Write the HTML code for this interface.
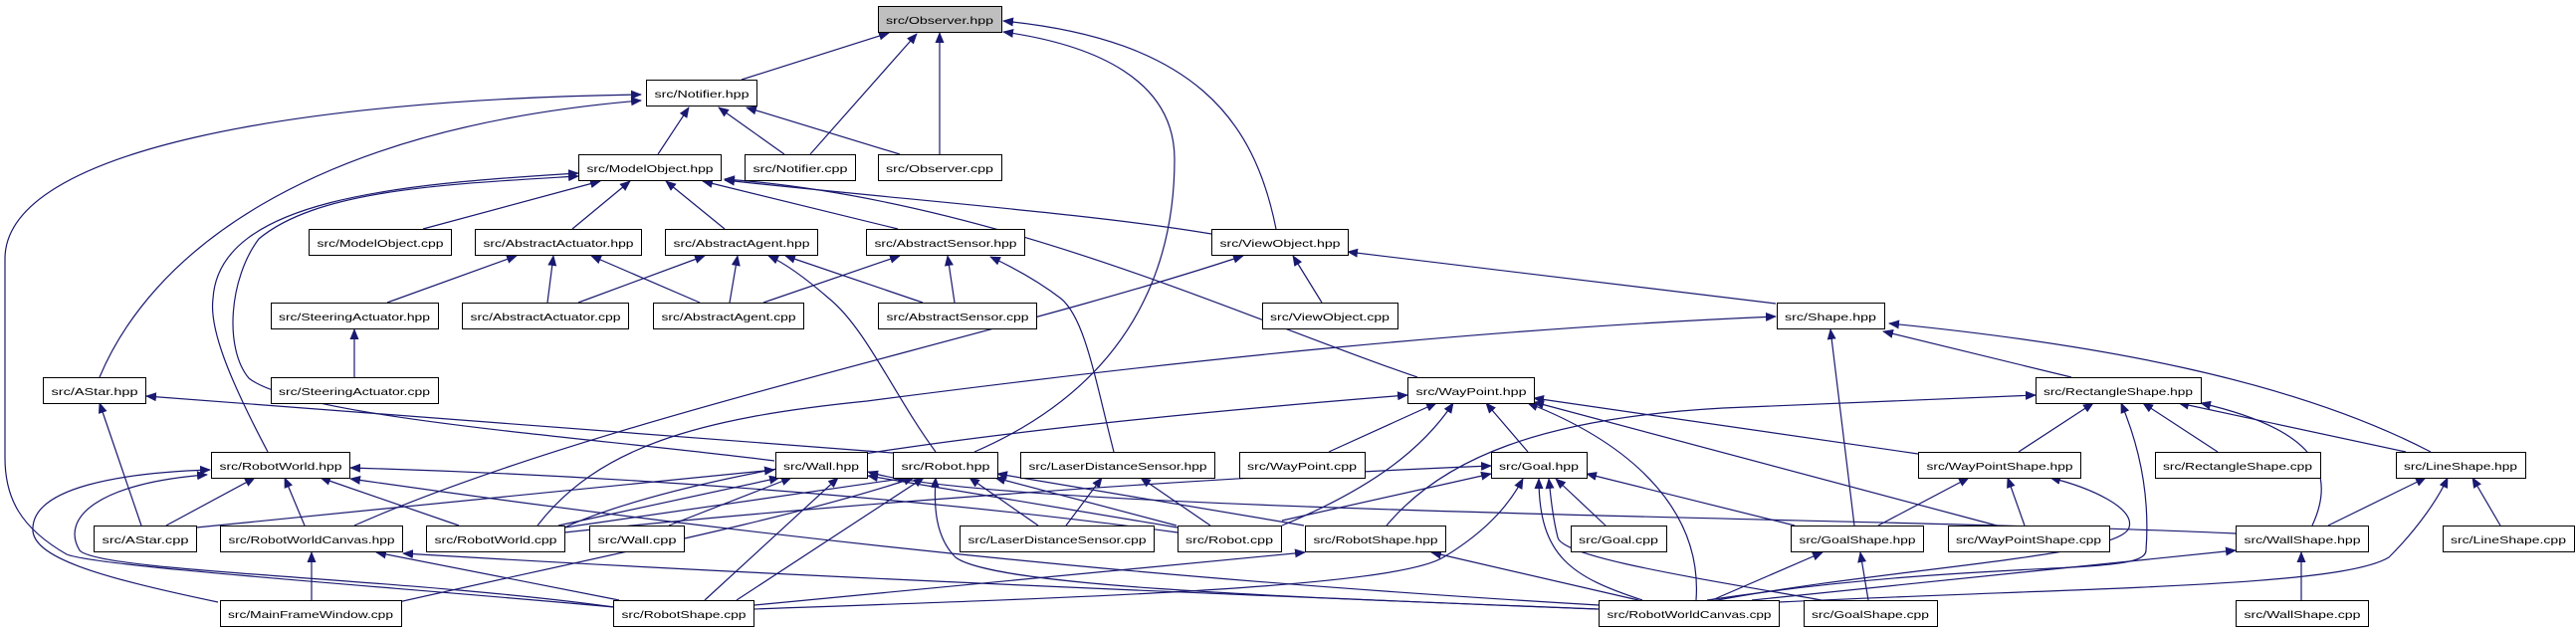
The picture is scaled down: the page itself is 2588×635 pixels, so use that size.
<!DOCTYPE html>
<html><head><meta charset="utf-8"><style>
html,body{margin:0;padding:0;background:#fff;}
svg{display:block;}
text{font-family:"Liberation Sans",Arial,sans-serif;font-size:10.5px;fill:#000;}
</style></head><body>
<svg width="2588" height="635" viewBox="0 0 2588 635" xmlns="http://www.w3.org/2000/svg">
<defs>
<marker id="a" markerWidth="11" markerHeight="9" refX="10" refY="4.5" orient="auto" markerUnits="userSpaceOnUse">
<path d="M0,0 L11,4.5 L0,9 z" fill="#191970"/>
</marker>
</defs>
<g fill="none" stroke="#191970" stroke-width="1.2" marker-end="url(#a)">
<path d="M745,80 L893,33"/>
<path d="M814,155 L921,34"/>
<path d="M944,155 L944,33"/>
<path d="M979,454 C1150,380 1180,250 1180,160 C1180,80 1100,45 1008,32"/>
<path d="M1282,230 C1260,120 1200,40 1008,21"/>
<path d="M661,155 L692,108"/>
<path d="M788,155 L722,108"/>
<path d="M904,155 L750,108"/>
<path d="M100,379 C150,260 300,130 644,101"/>
<path d="M617,610 C400,590 100,570 67,557 C20,530 5,500 5,460 L5,260 C5,150 300,100 644,95"/>
<path d="M425,230 L603,182"/>
<path d="M575,230 L633,182"/>
<path d="M728,230 L669,182"/>
<path d="M902,230 L706,182"/>
<path d="M1217,235 C1100,215 900,200 728,181"/>
<path d="M1424,379 C1250,320 1000,200 728,180"/>
<path d="M269,454 C230,380 210,330 214,300 C220,200 400,185 581,174"/>
<path d="M778,463 C600,440 300,420 250,380 C225,350 230,280 260,240 C320,190 450,185 581,177"/>
<path d="M389,304 L519,257"/>
<path d="M550,304 L556,257"/>
<path d="M703,304 L594,257"/>
<path d="M581,304 L708,257"/>
<path d="M733,304 L741,257"/>
<path d="M927,304 L789,257"/>
<path d="M940,454 C900,400 870,330 833,300 C810,280 790,265 772,257"/>
<path d="M767,304 L904,257"/>
<path d="M959,304 L952,257"/>
<path d="M1119,454 C1100,380 1090,320 1066,300 C1040,280 1010,265 995,258"/>
<path d="M1328,304 L1299,257"/>
<path d="M1784,305 L1354,253"/>
<path d="M356,528 C600,420 1000,340 1249,257"/>
<path d="M356,379 L356,331"/>
<path d="M2081,379 L1892,333"/>
<path d="M2442,454 C2300,380 2100,345 1898,325"/>
<path d="M1863,528 L1839,331"/>
<path d="M540,528 C600,450 700,420 871,403 C1200,360 1500,330 1784,318"/>
<path d="M142,528 L100,405"/>
<path d="M897,455 L147,398"/>
<path d="M167,528 L256,480"/>
<path d="M306,528 L286,480"/>
<path d="M461,528 L322,480"/>
<path d="M219,605 C100,580 30,560 33,530 C35,490 120,475 211,472"/>
<path d="M617,610 C400,580 100,575 80,553 C60,520 100,485 208,477"/>
<path d="M1183,535 C1000,510 700,480 352,470"/>
<path d="M1606,608 C1300,590 900,560 352,481"/>
<path d="M197,530 L778,472"/>
<path d="M561,528 L783,480"/>
<path d="M672,528 L795,480"/>
<path d="M708,603 L842,480"/>
<path d="M1183,530 L872,478"/>
<path d="M2246,536 C1900,520 1000,515 872,474"/>
<path d="M567,530 L912,480"/>
<path d="M400,605 C600,560 800,520 918,480"/>
<path d="M1043,528 L974,480"/>
<path d="M1182,528 L1000,480"/>
<path d="M1310,528 L1002,476"/>
<path d="M1604,612 C1300,600 1000,590 960,560 C940,540 938,510 940,480"/>
<path d="M740,603 L928,480"/>
<path d="M1071,528 L1107,480"/>
<path d="M1216,528 L1146,480"/>
<path d="M1335,454 L1443,405"/>
<path d="M1288,528 C1380,490 1430,450 1460,405"/>
<path d="M1535,454 L1493,405"/>
<path d="M1704,603 C1710,520 1650,450 1535,405"/>
<path d="M1927,456 L1541,400"/>
<path d="M2006,528 L1541,404"/>
<path d="M567,530 C700,470 1000,430 1414,397"/>
<path d="M1613,528 L1563,481"/>
<path d="M1288,523 L1498,476"/>
<path d="M567,535 C800,510 1200,480 1498,468"/>
<path d="M1650,603 C1580,580 1546,560 1546,481"/>
<path d="M757,612 C1100,600 1400,590 1450,560 C1500,530 1520,500 1530,481"/>
<path d="M1803,528 L1594,476"/>
<path d="M1830,603 C1700,580 1570,560 1565,540 C1560,520 1558,500 1556,481"/>
<path d="M758,608 L1311,555"/>
<path d="M1646,603 L1438,555"/>
<path d="M313,603 L313,555"/>
<path d="M622,603 L378,555"/>
<path d="M1606,612 C1300,600 800,580 405,556"/>
<path d="M2028,454 L2103,405"/>
<path d="M2228,454 L2153,405"/>
<path d="M2417,454 L2189,405"/>
<path d="M2323,528 C2350,470 2320,430 2211,405"/>
<path d="M1715,603 C2000,560 2156,580 2156,553 C2160,500 2150,450 2131,405"/>
<path d="M1393,528 C1450,460 1550,420 1731,410 C1850,405 1950,400 2045,397"/>
<path d="M1887,528 L1978,480"/>
<path d="M2034,528 L2017,480"/>
<path d="M1720,604 C1900,570 2130,560 2139,530 C2145,510 2100,490 2060,480"/>
<path d="M2339,528 L2437,480"/>
<path d="M2512,528 L2484,480"/>
<path d="M1787,605 C2100,590 2350,590 2400,560 C2430,530 2450,500 2459,480"/>
<path d="M1720,603 L1831,555"/>
<path d="M1877,603 L1869,555"/>
<path d="M2312,603 L2312,555"/>
<path d="M1760,603 L2246,553"/>
</g>
<g fill="#fff" stroke="#000" stroke-width="1">
<rect x="882.5" y="6.5" width="124" height="26" fill="#bfbfbf"/>
<rect x="649.5" y="80.5" width="111" height="26"/>
<rect x="581.5" y="155.5" width="143" height="26"/>
<rect x="748.5" y="155.5" width="111" height="26"/>
<rect x="882.5" y="155.5" width="124" height="26"/>
<rect x="310.5" y="230.5" width="143" height="26"/>
<rect x="477.5" y="230.5" width="167" height="26"/>
<rect x="668.5" y="230.5" width="153" height="26"/>
<rect x="870.5" y="230.5" width="159" height="26"/>
<rect x="1217.5" y="230.5" width="137" height="26"/>
<rect x="272.5" y="304.5" width="168" height="26"/>
<rect x="464.5" y="304.5" width="167" height="26"/>
<rect x="656.5" y="304.5" width="151" height="26"/>
<rect x="882.5" y="304.5" width="159" height="26"/>
<rect x="1268.5" y="304.5" width="136" height="26"/>
<rect x="1785.5" y="304.5" width="108" height="26"/>
<rect x="43.5" y="379.5" width="103" height="26"/>
<rect x="272.5" y="379.5" width="168" height="26"/>
<rect x="1414.5" y="379.5" width="127" height="26"/>
<rect x="2045.5" y="379.5" width="166" height="26"/>
<rect x="212.5" y="454.5" width="139" height="26"/>
<rect x="779.5" y="454.5" width="92" height="26"/>
<rect x="897.5" y="454.5" width="105" height="26"/>
<rect x="1025.5" y="454.5" width="195" height="26"/>
<rect x="1245.5" y="454.5" width="126" height="26"/>
<rect x="1498.5" y="454.5" width="96" height="26"/>
<rect x="1927.5" y="454.5" width="163" height="26"/>
<rect x="2165.5" y="454.5" width="166" height="26"/>
<rect x="2407.5" y="454.5" width="130" height="26"/>
<rect x="94.5" y="528.5" width="103" height="26"/>
<rect x="221.5" y="528.5" width="183" height="26"/>
<rect x="428.5" y="528.5" width="139" height="26"/>
<rect x="592.5" y="528.5" width="95" height="26"/>
<rect x="964.5" y="528.5" width="195" height="26"/>
<rect x="1183.5" y="528.5" width="104" height="26"/>
<rect x="1311.5" y="528.5" width="141" height="26"/>
<rect x="1578.5" y="528.5" width="96" height="26"/>
<rect x="1799.5" y="528.5" width="133" height="26"/>
<rect x="1957.5" y="528.5" width="162" height="26"/>
<rect x="2246.5" y="528.5" width="133" height="26"/>
<rect x="2454.5" y="528.5" width="132" height="26"/>
<rect x="221.5" y="603.5" width="182" height="26"/>
<rect x="616.5" y="603.5" width="141" height="26"/>
<rect x="1606.5" y="603.5" width="181" height="26"/>
<rect x="1812.5" y="603.5" width="134" height="26"/>
<rect x="2246.5" y="603.5" width="133" height="26"/>
</g>
<g text-anchor="middle" lengthAdjust="spacingAndGlyphs">
<text x="944" y="24" textLength="108" lengthAdjust="spacingAndGlyphs">src/Observer.hpp</text>
<text x="705" y="98" textLength="95" lengthAdjust="spacingAndGlyphs">src/Notifier.hpp</text>
<text x="653" y="173" textLength="127" lengthAdjust="spacingAndGlyphs">src/ModelObject.hpp</text>
<text x="804" y="173" textLength="95" lengthAdjust="spacingAndGlyphs">src/Notifier.cpp</text>
<text x="944" y="173" textLength="108" lengthAdjust="spacingAndGlyphs">src/Observer.cpp</text>
<text x="382" y="248" textLength="127" lengthAdjust="spacingAndGlyphs">src/ModelObject.cpp</text>
<text x="561" y="248" textLength="151" lengthAdjust="spacingAndGlyphs">src/AbstractActuator.hpp</text>
<text x="745" y="248" textLength="137" lengthAdjust="spacingAndGlyphs">src/AbstractAgent.hpp</text>
<text x="950" y="248" textLength="143" lengthAdjust="spacingAndGlyphs">src/AbstractSensor.hpp</text>
<text x="1286" y="248" textLength="121" lengthAdjust="spacingAndGlyphs">src/ViewObject.hpp</text>
<text x="356" y="322" textLength="152" lengthAdjust="spacingAndGlyphs">src/SteeringActuator.hpp</text>
<text x="548" y="322" textLength="151" lengthAdjust="spacingAndGlyphs">src/AbstractActuator.cpp</text>
<text x="732" y="322" textLength="135" lengthAdjust="spacingAndGlyphs">src/AbstractAgent.cpp</text>
<text x="962" y="322" textLength="143" lengthAdjust="spacingAndGlyphs">src/AbstractSensor.cpp</text>
<text x="1336" y="322" textLength="120" lengthAdjust="spacingAndGlyphs">src/ViewObject.cpp</text>
<text x="1839" y="322" textLength="92" lengthAdjust="spacingAndGlyphs">src/Shape.hpp</text>
<text x="95" y="397" textLength="87" lengthAdjust="spacingAndGlyphs">src/AStar.hpp</text>
<text x="356" y="397" textLength="152" lengthAdjust="spacingAndGlyphs">src/SteeringActuator.cpp</text>
<text x="1478" y="397" textLength="111" lengthAdjust="spacingAndGlyphs">src/WayPoint.hpp</text>
<text x="2128" y="397" textLength="150" lengthAdjust="spacingAndGlyphs">src/RectangleShape.hpp</text>
<text x="282" y="472" textLength="123" lengthAdjust="spacingAndGlyphs">src/RobotWorld.hpp</text>
<text x="825" y="472" textLength="76" lengthAdjust="spacingAndGlyphs">src/Wall.hpp</text>
<text x="950" y="472" textLength="89" lengthAdjust="spacingAndGlyphs">src/Robot.hpp</text>
<text x="1123" y="472" textLength="179" lengthAdjust="spacingAndGlyphs">src/LaserDistanceSensor.hpp</text>
<text x="1308" y="472" textLength="110" lengthAdjust="spacingAndGlyphs">src/WayPoint.cpp</text>
<text x="1546" y="472" textLength="80" lengthAdjust="spacingAndGlyphs">src/Goal.hpp</text>
<text x="2009" y="472" textLength="147" lengthAdjust="spacingAndGlyphs">src/WayPointShape.hpp</text>
<text x="2248" y="472" textLength="150" lengthAdjust="spacingAndGlyphs">src/RectangleShape.cpp</text>
<text x="2472" y="472" textLength="114" lengthAdjust="spacingAndGlyphs">src/LineShape.hpp</text>
<text x="146" y="546" textLength="87" lengthAdjust="spacingAndGlyphs">src/AStar.cpp</text>
<text x="313" y="546" textLength="167" lengthAdjust="spacingAndGlyphs">src/RobotWorldCanvas.hpp</text>
<text x="498" y="546" textLength="123" lengthAdjust="spacingAndGlyphs">src/RobotWorld.cpp</text>
<text x="640" y="546" textLength="79" lengthAdjust="spacingAndGlyphs">src/Wall.cpp</text>
<text x="1062" y="546" textLength="179" lengthAdjust="spacingAndGlyphs">src/LaserDistanceSensor.cpp</text>
<text x="1235" y="546" textLength="88" lengthAdjust="spacingAndGlyphs">src/Robot.cpp</text>
<text x="1382" y="546" textLength="125" lengthAdjust="spacingAndGlyphs">src/RobotShape.hpp</text>
<text x="1626" y="546" textLength="80" lengthAdjust="spacingAndGlyphs">src/Goal.cpp</text>
<text x="1866" y="546" textLength="117" lengthAdjust="spacingAndGlyphs">src/GoalShape.hpp</text>
<text x="2038" y="546" textLength="146" lengthAdjust="spacingAndGlyphs">src/WayPointShape.cpp</text>
<text x="2313" y="546" textLength="117" lengthAdjust="spacingAndGlyphs">src/WallShape.hpp</text>
<text x="2520" y="546" textLength="116" lengthAdjust="spacingAndGlyphs">src/LineShape.cpp</text>
<text x="312" y="621" textLength="166" lengthAdjust="spacingAndGlyphs">src/MainFrameWindow.cpp</text>
<text x="687" y="621" textLength="125" lengthAdjust="spacingAndGlyphs">src/RobotShape.cpp</text>
<text x="1697" y="621" textLength="165" lengthAdjust="spacingAndGlyphs">src/RobotWorldCanvas.cpp</text>
<text x="1879" y="621" textLength="118" lengthAdjust="spacingAndGlyphs">src/GoalShape.cpp</text>
<text x="2313" y="621" textLength="117" lengthAdjust="spacingAndGlyphs">src/WallShape.cpp</text>
</g>
</svg>
</body></html>
